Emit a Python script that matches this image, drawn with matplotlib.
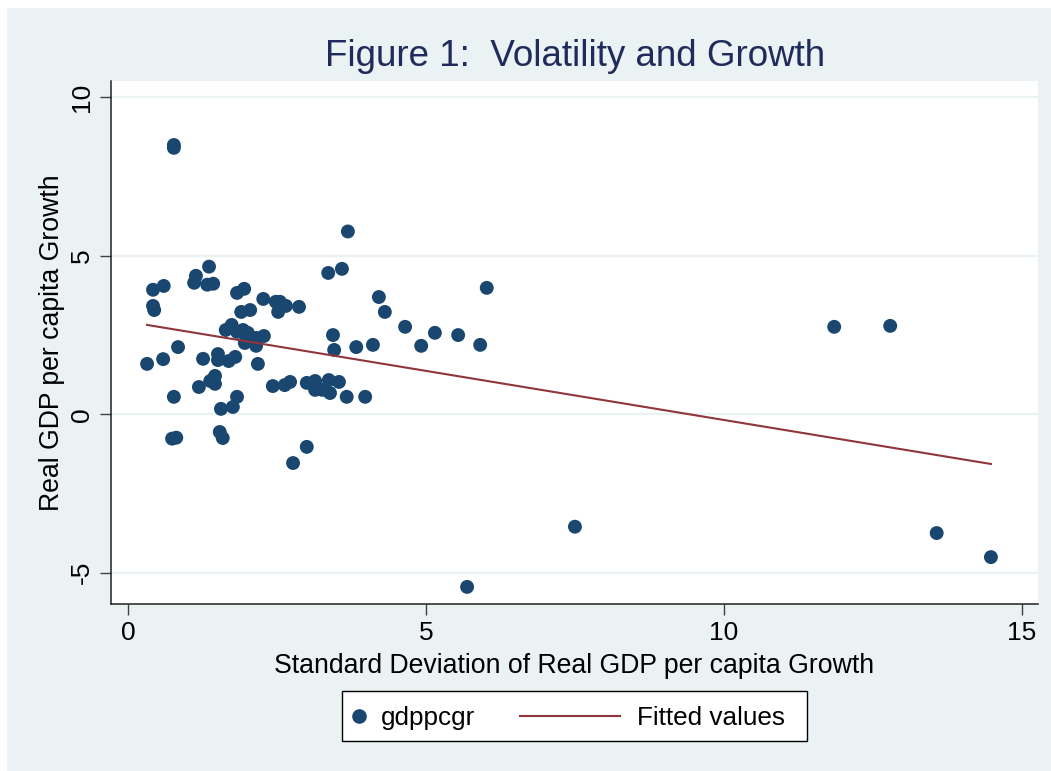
import matplotlib
matplotlib.use("Agg")
import matplotlib.pyplot as plt
from matplotlib.patches import Rectangle
from matplotlib.lines import Line2D

# ---- data ----
sd_growth = [0.32, 0.42, 0.42, 0.44, 0.60, 0.59, 0.77, 0.77, 0.84, 0.77,
             0.74, 0.81, 1.11, 1.14, 1.33, 1.36, 1.43, 1.19, 1.26, 1.38,
             1.46, 1.46, 1.51, 1.51, 1.69, 1.80, 1.56, 1.54, 1.59, 1.76,
             1.83, 1.64, 1.74, 1.83, 1.93, 2.01, 1.96, 2.15, 2.15, 2.28,
             2.18, 1.83, 1.95, 1.90, 2.05, 2.27, 2.48, 2.52, 2.55, 2.65,
             2.87, 2.43, 2.63, 2.72, 2.77, 3.00, 3.00, 3.14, 3.14, 3.26,
             3.37, 3.39, 3.54, 3.67, 3.98, 3.36, 3.59, 3.69, 3.44, 3.46,
             3.83, 4.11, 4.21, 4.31, 4.65, 4.92, 5.15, 5.54, 5.91, 6.02,
             5.69, 7.50, 11.85, 12.79, 13.57, 14.48]
gdppcgr = [1.59, 3.93, 3.42, 3.29, 4.05, 1.74, 8.50, 8.41, 2.12, 0.55,
           -0.77, -0.74, 4.15, 4.37, 4.09, 4.66, 4.12, 0.86, 1.75, 1.05,
           1.21, 0.96, 1.90, 1.71, 1.68, 1.81, 0.17, -0.56, -0.75, 0.23,
           0.55, 2.66, 2.82, 2.60, 2.66, 2.57, 2.25, 2.16, 2.41, 2.47,
           1.59, 3.83, 3.96, 3.23, 3.29, 3.64, 3.55, 3.23, 3.55, 3.42,
           3.39, 0.89, 0.92, 1.02, -1.54, -1.03, 0.99, 1.05, 0.77, 0.77,
           1.08, 0.67, 1.02, 0.55, 0.55, 4.46, 4.59, 5.77, 2.50, 2.03,
           2.12, 2.19, 3.70, 3.23, 2.76, 2.16, 2.57, 2.50, 2.19, 3.99,
           -5.45, -3.55, 2.76, 2.79, -3.75, -4.51]
fit_x = [0.32, 14.48]
fit_y = [2.82, -1.57]
x_ticks = [0, 5, 10, 15]
y_ticks = [-5, 0, 5, 10]

title = "Figure 1:  Volatility and Growth"
x_label = "Standard Deviation of Real GDP per capita Growth"
y_label = "Real GDP per capita Growth"
legend_labels = ["gdppcgr", "Fitted values"]

# ---- style ----
W, H = 1051, 771
BG = "#eaf2f3"
NAVY = "#1a476f"
MAROON = "#90353b"
FONT = "Liberation Sans"
plt.rcParams["font.family"] = [FONT, "DejaVu Sans"]
LAB_FS = 19.2
TICK_FS = 19
LEG_FS = 18.8

def fx(x):
    return x / W

def fy(y):
    return 1 - y / H

fig = plt.figure(figsize=(W / 100, H / 100), dpi=100, facecolor="white")
fig.add_artist(Rectangle((fx(7), 0), 1 - fx(7), fy(8), transform=fig.transFigure,
                         facecolor=BG, edgecolor="none", zorder=-10))

ax = fig.add_axes([fx(111), fy(604), fx(1038) - fx(111), fy(81) - fy(604)])
ax.set_facecolor("white")
ax.set_xlim(-0.285, 15.27)
ax.set_ylim(-5.99, 10.52)

for yt in y_ticks:
    ax.axhline(yt, color=BG, lw=1.6, zorder=0)

ax.scatter(sd_growth, gdppcgr, s=100, color=NAVY, edgecolors="none", zorder=3)
ax.plot(fit_x, fit_y, color=MAROON, lw=1.5, zorder=4)

ax.set_xticks(x_ticks)
ax.set_yticks(y_ticks)
ax.set_xticklabels([str(t) for t in x_ticks])
ax.set_yticklabels([str(t) for t in y_ticks], rotation=90, va="center")
ax.tick_params(axis="both", direction="out", length=8, width=1.0, color="#404040",
               labelsize=TICK_FS, labelcolor="black", pad=4)
for side in ["top", "right"]:
    ax.spines[side].set_visible(False)
for side in ["left", "bottom"]:
    ax.spines[side].set_color("#222222")
    ax.spines[side].set_linewidth(1.1)

ax.set_xlabel(x_label, fontsize=LAB_FS, color="black", labelpad=6)
ax.set_ylabel(y_label, fontsize=LAB_FS, color="black", labelpad=3.5)

fig.text(fx(575), fy(57), title, fontsize=26.5, color="#1e2b5c",
         ha="center", va="center")

# legend box
fig.add_artist(Rectangle((fx(342), fy(741)), fx(807) - fx(342), fy(691) - fy(741),
                         transform=fig.transFigure, facecolor="white",
                         edgecolor="black", lw=1.0))
fig.add_artist(Line2D([fx(359)], [fy(716)], transform=fig.transFigure,
                      marker="o", markersize=9.5, color=NAVY, linestyle="none"))
fig.text(fx(381), fy(718), legend_labels[0], fontsize=LEG_FS, ha="left", va="center")
fig.add_artist(Line2D([fx(520), fx(620)], [fy(716), fy(716)],
                      transform=fig.transFigure, color=MAROON, lw=1.5))
fig.text(fx(637), fy(718), legend_labels[1], fontsize=LEG_FS, ha="left", va="center")

fig.savefig("out.png", dpi=100, facecolor="white")
